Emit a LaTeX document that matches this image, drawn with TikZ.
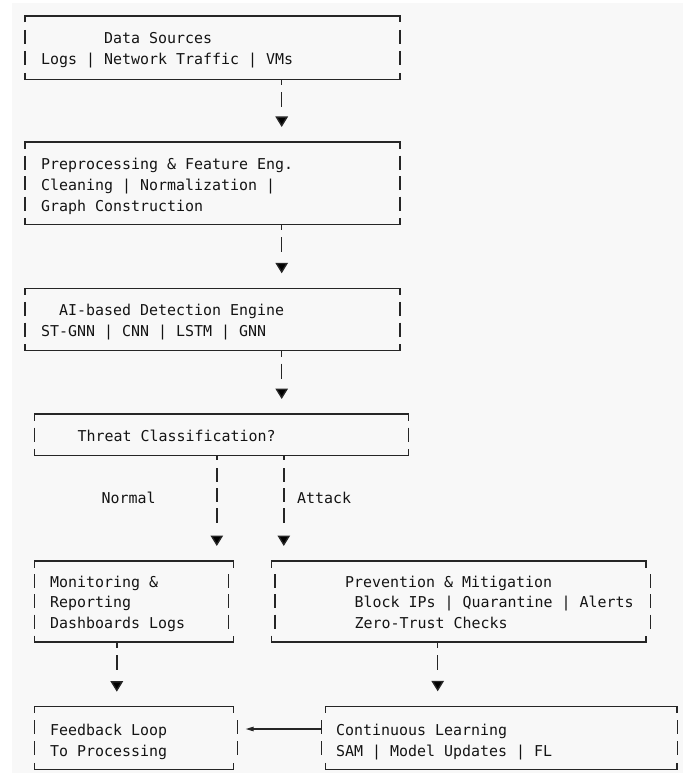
\documentclass[tikz,border=0pt]{standalone}
\usepackage{fontspec}
\newfontfamily\mono{DejaVu Sans Mono}
\usetikzlibrary{arrows.meta}
\definecolor{bg}{HTML}{F8F8F8}
\definecolor{ink}{HTML}{141414}
\definecolor{linec}{HTML}{262626}
\tikzset{
  frame/.style={draw=linec, line width=1.4pt},
  boxn/.style={rectangle, inner sep=0pt, draw=none, anchor=north west},
  txt/.style={font=\mono\fontsize{14.95}{21}\selectfont, text=ink, inner sep=0pt, anchor=base west},
  conn/.style={draw=linec, line width=1.4pt, dash pattern=on 6pt off 7pt on 15pt off 60pt,
    -{Triangle[width=12.5pt,length=10.5pt,fill=black]}, shorten >=15pt},
  longconn/.style={draw=linec, line width=1.4pt,
    dash pattern=on 5pt off 8pt on 14pt off 6pt on 14pt off 6pt on 15pt off 60pt,
    -{Triangle[width=12.5pt,length=10.5pt,fill=black]}, shorten >=15pt},
  larr/.style={draw=linec, line width=1.2pt, -{Triangle[width=4.5pt,length=8pt]}, shorten >=12pt},
}
% frame: name, rows, pitch, left bar offset, right bar offset
\newcommand\asciiframe[5]{%
  \draw[frame] ([yshift=-6.5pt]#1.north west) -- (#1.north west) -- (#1.north east) -- ([yshift=-6.5pt]#1.north east);
  \draw[frame] ([yshift=6.5pt]#1.south west) -- (#1.south west) -- (#1.south east) -- ([yshift=6.5pt]#1.south east);
  \foreach \i in {1,...,#2}{%
    \draw[frame] ([shift={(#4,{-\i*#3+7})}]#1.north west) -- ++(0,-14);
    \draw[frame] ([shift={(#5,{-\i*#3+7})}]#1.north east) -- ++(0,-14);
  }%
}
\begin{document}
\begin{tikzpicture}[x=1pt,y=1pt]
\useasboundingbox (0,0) rectangle (683,-773);
\fill[white] (0,0) rectangle (683,-773);
\fill[bg] (12,-3) rectangle (683,-773);

% box nodes
\node[boxn, minimum width=374.5pt, minimum height=63pt] (ds) at (25,-16) {};
\node[boxn, minimum width=374.5pt, minimum height=82pt] (pre) at (25,-142) {};
\node[boxn, minimum width=374.5pt, minimum height=62pt] (ai) at (25,-288.3) {};
\node[boxn, minimum width=374pt, minimum height=41pt] (th) at (34.3,-414) {};
\node[boxn, minimum width=199pt, minimum height=80.7pt] (mon) at (34.3,-561) {};
\node[boxn, minimum width=374pt, minimum height=80.7pt] (prev) at (271.7,-561) {};
\node[boxn, minimum width=199pt, minimum height=62.3pt] (fb) at (34.3,-706.7) {};
\node[boxn, minimum width=351pt, minimum height=62.7pt] (cl) at (325.7,-706.3) {};

\asciiframe{ds}{2}{21}{0}{0}
\asciiframe{pre}{3}{20.5}{0}{0}
\asciiframe{ai}{2}{20.67}{0}{0}
\asciiframe{th}{1}{20.5}{0}{0}
\asciiframe{mon}{3}{20.17}{0}{-5}
\asciiframe{prev}{3}{20.17}{3.3}{4.3}
\asciiframe{fb}{2}{20.77}{0}{3.7}
\asciiframe{cl}{2}{20.9}{-4}{0.5}

% texts
\node[txt] (ds1) at (104,-43.3) {Data Sources};
\node[txt] (ds2) at (41,-64.3) {Logs | Network Traffic | VMs};
\node[txt] (pre1) at (41,-169) {Preprocessing \& Feature Eng.};
\node[txt] (pre2) at (41,-190) {Cleaning | Normalization |};
\node[txt] (pre3) at (41,-211) {Graph Construction};
\node[txt] (ai1) at (59,-315.3) {AI-based Detection Engine};
\node[txt] (ai2) at (41,-336) {ST-GNN | CNN | LSTM | GNN};
\node[txt] (th1) at (77.5,-441) {Threat Classification?};
\node[txt] (lbn) at (101.5,-503) {Normal};
\node[txt] (lba) at (297,-503) {Attack};
\node[txt] (mon1) at (50,-587) {Monitoring \&};
\node[txt] (mon2) at (50,-607.5) {Reporting};
\node[txt] (mon3) at (50,-628) {Dashboards Logs};
\node[txt] (prev1) at (345,-587) {Prevention \& Mitigation};
\node[txt] (prev2) at (354.3,-607.5) {Block IPs | Quarantine | Alerts};
\node[txt] (prev3) at (354.3,-628) {Zero-Trust Checks};
\node[txt] (fb1) at (50,-735) {Feedback Loop};
\node[txt] (fb2) at (50,-756) {To Processing};
\node[txt] (cl1) at (336,-735) {Continuous Learning};
\node[txt] (cl2) at (336,-756) {SAM | Model Updates | FL};

% connectors
\draw[conn] ([xshift=256.7pt]ds.south west) -- ([xshift=256.7pt]pre.north west);
\draw[conn] ([xshift=256.7pt]pre.south west) -- ([xshift=256.7pt]ai.north west);
\draw[conn] ([xshift=256.7pt]ai.south west) -- ([xshift=247.4pt]th.north west);
\draw[longconn] ([xshift=182.5pt]th.south west) -- ([xshift=182.5pt]mon.north west);
\draw[longconn] ([xshift=249.5pt]th.south west) -- ([xshift=12.1pt]prev.north west);
\draw[conn] ([xshift=82.5pt]mon.south west) -- ([xshift=82.5pt]fb.north west);
\draw[conn] ([xshift=166pt]prev.south west) -- ([xshift=112pt]cl.north west);
\draw[larr] ([shift={(-4pt,-22.7pt)}]cl.north west) -- ([shift={(0pt,-22.3pt)}]fb.north east);
\end{tikzpicture}
\end{document}
